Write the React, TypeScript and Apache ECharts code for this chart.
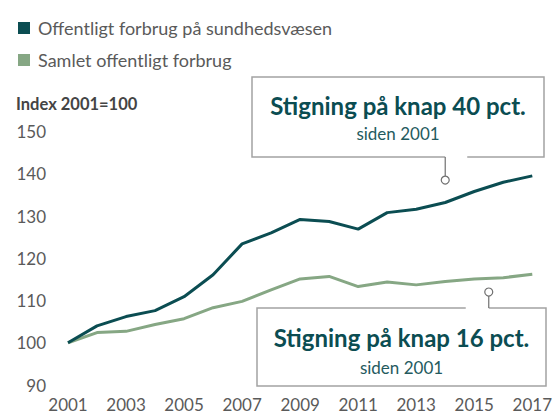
import React, { useEffect, useRef } from "react";
import * as echarts from "echarts";

const years = [2001, 2002, 2003, 2004, 2005, 2006, 2007, 2008, 2009, 2010, 2011, 2012, 2013, 2014, 2015, 2016, 2017];
const healthValues = [100, 104.0, 106.2, 107.6, 110.9, 116.1, 123.4, 126.0, 129.2, 128.7, 126.9, 130.8, 131.6, 133.2, 135.8, 138.0, 139.5];
const totalValues = [100, 102.4, 102.7, 104.3, 105.7, 108.3, 109.8, 112.5, 115.1, 115.7, 113.3, 114.4, 113.7, 114.5, 115.1, 115.4, 116.2];
const seriesNames = ["Offentligt forbrug på sundhedsvæsen", "Samlet offentligt forbrug"];
const yTicks = { min: 90, max: 150, interval: 10 };
const xTicks = { min: 2001, max: 2017, interval: 2 };
const unitLabel = "Index 2001=100";
const annotationTitles = ["Stigning på knap 40 pct.", "Stigning på knap 16 pct."];
const annotationSubtitles = ["siden 2001", "siden 2001"];
const annotationYears = [2014, 2015.5];
const annotationValues = [138.5, 112];

const DARK = "#0b4d52";
const GREEN = "#86a784";
const FONT = "Lato, 'Open Sans', sans-serif";

export default function App() {
  const ref = useRef<HTMLDivElement>(null);
  useEffect(() => {
    if (!ref.current) return;
    const chart = echarts.init(ref.current, null, { renderer: "svg" });
    chart.setOption({
      animation: false,
      backgroundColor: "#ffffff",
      textStyle: { fontFamily: FONT },
      title: {
        text: unitLabel,
        left: 11,
        top: 90,
        textStyle: { fontFamily: FONT, fontWeight: "bold", fontSize: 16.5, color: "#444444" },
      },
      legend: {
        orient: "vertical",
        left: 13,
        top: 13,
        itemWidth: 12,
        itemHeight: 12,
        itemGap: 12,
        icon: "rect",
        selectedMode: false,
        textStyle: { fontFamily: FONT, fontSize: 18, color: "#5a5a5a", lineHeight: 20, padding: [0, 0, 0, 3] },
        data: seriesNames,
      },
      grid: { left: 68, right: 18, top: 131.5, bottom: 31 },
      xAxis: {
        type: "value",
        min: xTicks.min,
        max: xTicks.max,
        interval: xTicks.interval,
        axisLine: { show: false },
        axisTick: { show: false },
        splitLine: { show: false },
        axisLabel: {
          margin: 11,
          fontFamily: FONT,
          fontSize: 17,
          color: "#5a5a5a",
          formatter: (v: number) => String(v),
        },
      },
      yAxis: {
        type: "value",
        min: yTicks.min,
        max: yTicks.max,
        interval: yTicks.interval,
        axisLine: { show: false },
        axisTick: { show: false },
        splitLine: { show: false },
        axisLabel: { margin: 22, fontFamily: FONT, fontSize: 17, color: "#5a5a5a" },
      },
      series: [
        {
          name: seriesNames[0],
          type: "line",
          data: years.map((y, i) => [y, healthValues[i]]),
          showSymbol: false,
          symbol: "none",
          lineStyle: { color: DARK, width: 3 },
          itemStyle: { color: DARK },
          z: 3,
        },
        {
          name: seriesNames[1],
          type: "line",
          data: years.map((y, i) => [y, totalValues[i]]),
          showSymbol: false,
          symbol: "none",
          lineStyle: { color: GREEN, width: 3 },
          itemStyle: { color: GREEN },
          z: 2,
        },
      ],
    });

    const a1 = chart.convertToPixel({ gridIndex: 0 }, [annotationYears[0], annotationValues[0]]) as number[];
    const a2 = chart.convertToPixel({ gridIndex: 0 }, [annotationYears[1], annotationValues[1]]) as number[];

    const border = { stroke: "#a3a3a3", lineWidth: 1.5, fill: null };
    const conn = { stroke: "#707070", lineWidth: 1.2 };
    const r = 4;

    const b1 = { l: 252, r: 544, t: 77, b: 157 };
    const b2 = { l: 257, r: 546, t: 308, b: 386 };

    const titleStyle = (text: string, x: number, y: number) => ({
      type: "text",
      x,
      y,
      style: {
        text,
        fill: DARK,
        font: `bold 24px ${FONT}`,
        textAlign: "center",
        textVerticalAlign: "middle",
      },
      z: 10,
    });
    const subStyle = (text: string, x: number, y: number) => ({
      type: "text",
      x,
      y,
      style: {
        text,
        fill: "#245a5e",
        font: `17px ${FONT}`,
        textAlign: "center",
        textVerticalAlign: "middle",
      },
      z: 10,
    });

    chart.setOption({
      graphic: [
        {
          type: "rect",
          shape: { x: b1.l, y: b1.t, width: b1.r - b1.l, height: b1.b - b1.t },
          style: { fill: "#ffffff" },
          z: 5,
        },
        {
          type: "polyline",
          shape: {
            points: [
              [a1[0], b1.b],
              [b1.l, b1.b],
              [b1.l, b1.t],
              [b1.r, b1.t],
              [b1.r, b1.b],
              [a1[0] + 22, b1.b],
            ],
          },
          style: border,
          z: 6,
        },
        {
          type: "line",
          shape: { x1: a1[0], y1: b1.b, x2: a1[0], y2: a1[1] - r },
          style: conn,
          z: 6,
        },
        {
          type: "circle",
          shape: { cx: a1[0], cy: a1[1], r },
          style: { fill: "#ffffff", stroke: "#707070", lineWidth: 1.2 },
          z: 7,
        },
        titleStyle(annotationTitles[0], (b1.l + b1.r) / 2, 105),
        subStyle(annotationSubtitles[0], (b1.l + b1.r) / 2, 133),
        {
          type: "rect",
          shape: { x: b2.l, y: b2.t, width: b2.r - b2.l, height: b2.b - b2.t },
          style: { fill: "#ffffff" },
          z: 5,
        },
        {
          type: "polyline",
          shape: {
            points: [
              [a2[0] - 23, b2.t],
              [b2.l, b2.t],
              [b2.l, b2.b],
              [b2.r, b2.b],
              [b2.r, b2.t],
              [a2[0], b2.t],
            ],
          },
          style: border,
          z: 6,
        },
        {
          type: "line",
          shape: { x1: a2[0], y1: b2.t, x2: a2[0], y2: a2[1] + r },
          style: conn,
          z: 6,
        },
        {
          type: "circle",
          shape: { cx: a2[0], cy: a2[1], r },
          style: { fill: "#ffffff", stroke: "#707070", lineWidth: 1.2 },
          z: 7,
        },
        titleStyle(annotationTitles[1], (b2.l + b2.r) / 2, 337),
        subStyle(annotationSubtitles[1], (b2.l + b2.r) / 2, 367),
      ],
    });

    return () => chart.dispose();
  }, []);

  return (
    <div
      ref={ref}
      style={{ position: "fixed", left: 0, top: 0, width: 555, height: 416 }}
    />
  );
}
